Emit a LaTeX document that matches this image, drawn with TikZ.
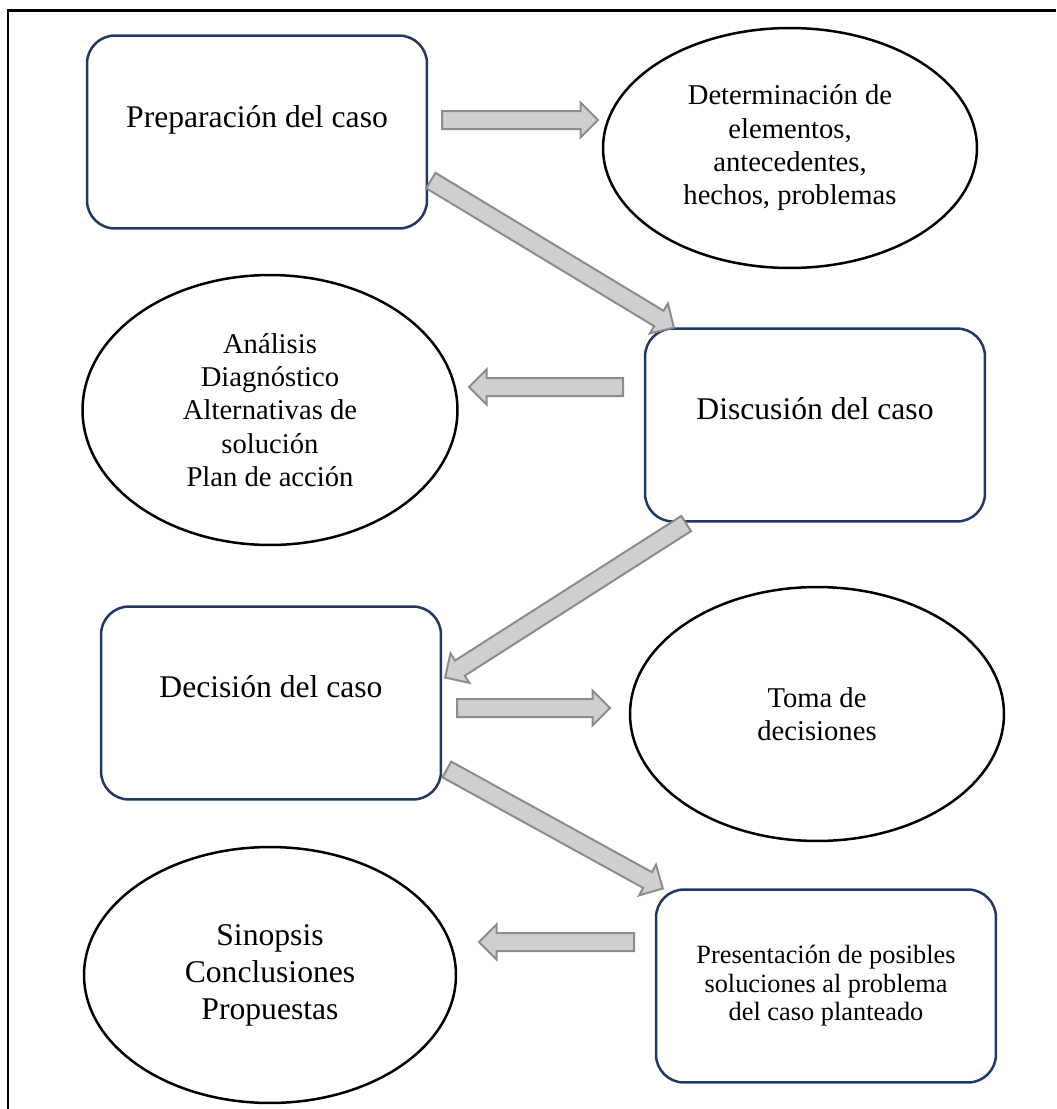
\documentclass[tikz,border=0pt]{standalone}
\usepackage{fontspec}
\setmainfont{Liberation Serif}
\usetikzlibrary{shapes.geometric,shapes.arrows,calc}
\definecolor{boxblue}{RGB}{31,56,100}
\definecolor{arrowfill}{RGB}{208,206,206}
\definecolor{arrowline}{RGB}{140,140,140}
\newcommand{\blockarrow}[2]{%
  \path let \p1=(#1), \p2=(#2), \n1={veclen(\x2-\x1,\y2-\y1)},
    \n2={atan2(\y2-\y1,\x2-\x1)} in
    (#1) node[fatarrow, anchor=tail, rotate=\n2, minimum height=\n1] {};}

\begin{document}
\begin{tikzpicture}[x=0.02cm, y=-0.02cm,
    casebox/.style={draw=boxblue, line width=0.5mm, rounded corners=5.6mm,
      minimum width=6.8cm, minimum height=3.86cm},
    caseoval/.style={draw, ellipse, line width=0.5mm, inner sep=0pt, align=center,
      font=\fontsize{16.3}{19}\selectfont},
    fatarrow/.style={single arrow, draw=arrowline, fill=arrowfill, line width=0.4mm,
      inner xsep=0pt, inner ysep=1.6mm, single arrow head extend=1.7mm,
      single arrow tip angle=90, single arrow head indent=0pt},
    bigtxt/.style={font=\fontsize{18}{21}\selectfont, align=center}]
        \useasboundingbox (0,0) rectangle (1056,1109);
        \draw[line width=0.6mm] (1056,10) -- (8,10) -- (8,1109);
        % boxes
        \node[casebox] (prep) at (257,132) {};
        \node[bigtxt] (prept) at (257,120) {Preparación del caso};
        \node[casebox] (disc) at (815,425) {};
        \node[bigtxt] (disct) at (815,409) {Discusión del caso};
        \node[casebox] (deci) at (271,703) {};
        \node[bigtxt] (decit) at (271,687) {Decisión del caso};
        \node[casebox, align=center, font=\fontsize{15}{16.2}\selectfont] (pres) at (826,986)
          {Presentación de posibles\\soluciones al problema\\del caso planteado};
        % ellipses
        \node[caseoval, minimum width=7.48cm, minimum height=4.8cm] (deter) at (790,148)
          {Determinación de\\elementos,\\antecedentes,\\hechos, problemas};
        \node[caseoval, minimum width=7.5cm, minimum height=5.4cm] (anal) at (270,410)
          {Análisis\\Diagnóstico\\Alternativas de\\solución\\Plan de acción};
        \node[caseoval, minimum width=7.48cm, minimum height=5.08cm] (toma) at (817,714)
          {Toma de\\decisiones};
        \node[caseoval, minimum width=7.44cm, minimum height=5.12cm,
          font=\fontsize{18}{21}\selectfont] (sino) at (270,975)
          {Sinopsis\\Conclusiones\\Propuestas};
        % arrows
        \coordinate (a1s) at (441,120); \coordinate (a1e) at (597,120);
        \coordinate (d1s) at (430,180); \coordinate (d1e) at (673,327);
        \coordinate (a2s) at (624,387); \coordinate (a2e) at (470,387);
        \coordinate (d2s) at (687,523); \coordinate (d2e) at (446,677);
        \coordinate (a3s) at (456,708); \coordinate (a3e) at (609,708);
        \coordinate (d3s) at (446,769); \coordinate (d3e) at (662,888);
        \coordinate (a4s) at (635,942); \coordinate (a4e) at (480,942);
        \blockarrow{a1s}{a1e}
        \blockarrow{d1s}{d1e}
        \blockarrow{a2s}{a2e}
        \blockarrow{d2s}{d2e}
        \blockarrow{a3s}{a3e}
        \blockarrow{d3s}{d3e}
        \blockarrow{a4s}{a4e}
\end{tikzpicture}
\end{document}
